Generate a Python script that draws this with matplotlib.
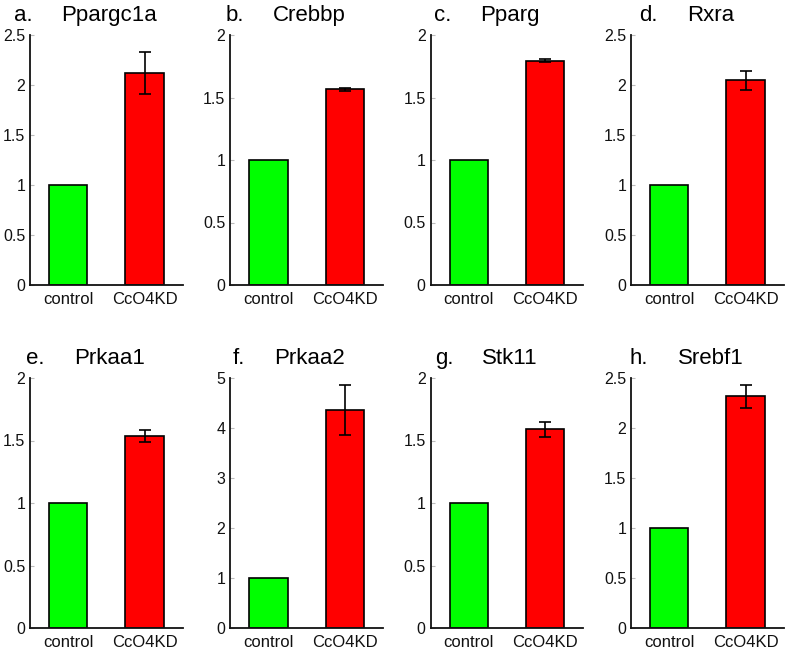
import matplotlib.pyplot as plt
import numpy as np

plt.rcParams['font.family'] = ['Liberation Sans', 'DejaVu Sans']

# data
panel_letters = ['a.', 'b.', 'c.', 'd.', 'e.', 'f.', 'g.', 'h.']
genes = ['Ppargc1a', 'Crebbp', 'Pparg', 'Rxra', 'Prkaa1', 'Prkaa2', 'Stk11', 'Srebf1']
groups = ['control', 'CcO4KD']
control = [1, 1, 1, 1, 1, 1, 1, 1]
knockdown = [2.12, 1.565, 1.795, 2.05, 1.536, 4.37, 1.59, 2.32]
knockdown_err = [0.21, 0.015, 0.012, 0.095, 0.05, 0.5, 0.06, 0.115]
y_max = [2.5, 2, 2, 2.5, 2, 5, 2, 2.5]
y_step = [0.5, 0.5, 0.5, 0.5, 0.5, 1, 0.5, 0.5]

W, H = 787, 652
fig = plt.figure(figsize=(W / 100, H / 100), dpi=100)

# axes layout in pixels (left edge of each column, top/bottom of each row)
col_left = [30, 230.3, 430.6, 631]
ax_w = 152.7
rows = [(35, 285), (378, 628)]

for i in range(8):
    r, c = divmod(i, 4)
    top, bot = rows[r]
    ax = fig.add_axes([col_left[c] / W, (H - bot) / H, ax_w / W, (bot - top) / H])
    x = np.arange(1, 3)
    ax.bar(x, [control[i], knockdown[i]], width=0.5,
           color=['#00ff00', '#ff0000'], edgecolor='black', linewidth=1.2, zorder=2)
    ax.errorbar(2, knockdown[i], yerr=knockdown_err[i], fmt='none',
                ecolor='black', elinewidth=1.2, capsize=4.3, capthick=1.2, zorder=3)
    ax.set_xlim(0.5, 2.5)
    ax.set_ylim(0, y_max[i])
    yt = np.arange(0, y_max[i] + 1e-9, y_step[i])
    ax.set_yticks(yt, [f'{v:g}' for v in yt])
    ax.set_xticks(x, groups)
    for s in ['top', 'right']:
        ax.spines[s].set_visible(False)
    for s in ['left', 'bottom']:
        ax.spines[s].set_linewidth(1.3)
        ax.spines[s].set_color('#111111')
    ax.tick_params(axis='y', direction='in', length=3, width=0.8, color='#bbbbbb',
                   labelsize=11.5, pad=3.5, labelcolor='#111111')
    ax.tick_params(axis='x', length=0, labelsize=12, pad=5, labelcolor='#111111')

    # title: gene name centred a little right of the axes centre, letter to its left
    gx = (col_left[c] + ax_w / 2 + 3) / W
    gene_txt = fig.text(gx, (H - (top - 14)) / H, genes[i], fontsize=16,
                        ha='center', va='baseline')
    ax.annotate(panel_letters[i], xy=(0, 0), xycoords=gene_txt,
                xytext=(-29, 0), textcoords='offset pixels',
                ha='right', va='bottom', fontsize=16)

fig.savefig('out.png', dpi=100)
